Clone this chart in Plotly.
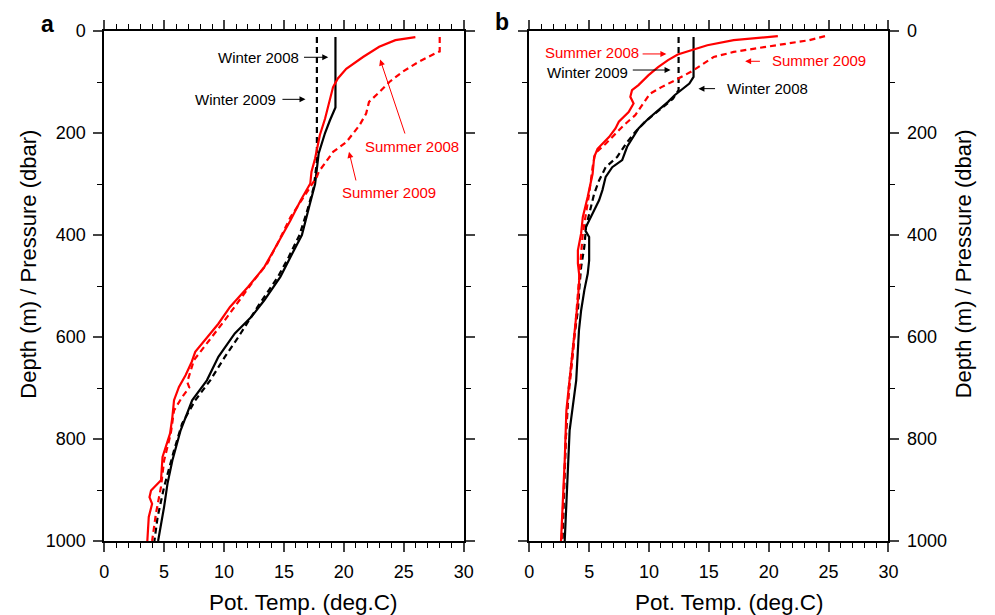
import plotly.graph_objects as go

# ---------------- Panel a data (pressure dbar, temperature deg C) ----------------
w08a_p = [12, 150, 175, 200, 240, 300, 345, 400, 443, 482, 528, 561, 593, 639, 685, 724, 783, 842, 888, 933, 1000]
w08a_t = [19.3, 19.3, 18.84, 18.43, 17.9, 17.6, 17.1, 16.5, 15.55, 14.7, 13.36, 12.27, 10.9, 9.53, 8.57, 7.34, 6.38, 5.69, 5.28, 5.0, 4.5]

w09a_p = [12, 255, 305, 344, 400, 443, 482, 541, 600, 639, 685, 724, 770, 822, 894, 953, 1000]
w09a_t = [17.75, 17.75, 17.5, 17.05, 16.3, 15.4, 14.5, 12.8, 11.2, 10.07, 8.85, 7.6, 6.5, 5.83, 5.0, 4.46, 4.19]

s08a_p = [12, 18, 31, 51, 74, 93, 110, 133, 172, 204, 250, 276, 299, 332, 371, 417, 463, 502, 541, 574,
          613, 629, 649, 675, 698, 724, 757, 789, 835, 881, 901, 914, 927, 953, 1000]
s08a_t = [25.97, 24.3, 22.95, 21.6, 20.2, 19.5, 19.1, 18.84, 18.43, 18.0, 17.6, 17.3, 17.2, 16.4, 15.55, 14.46, 13.36, 12.0, 10.5, 9.53,
          8.16, 7.6, 7.3, 6.79, 6.24, 5.83, 5.69, 5.5, 4.87, 4.74, 3.91, 3.78, 4.0, 3.72, 3.6]

s09a_p = [12, 40, 44, 61, 80, 100, 120, 139, 162, 185, 218, 237, 257, 276, 286, 325, 365, 417, 456, 489, 528, 567,
          645, 688, 699, 718, 744, 789, 842, 894, 946, 1000]
s09a_t = [28.0, 28.0, 27.6, 26.2, 24.9, 23.8, 22.95, 22.1, 21.86, 21.3, 20.2, 19.1, 18.5, 17.9, 17.75, 16.65, 15.55, 14.46, 13.6, 12.5, 11.3, 10.07,
          7.5, 6.93, 7.1, 6.5, 5.83, 5.56, 5.0, 4.74, 4.32, 4.0]

# ---------------- Panel b data ----------------
w08b_p = [12, 90, 103, 116, 126, 139, 155, 172, 191, 208, 227, 253, 267, 286, 312, 332, 358, 384, 392, 404, 450, 476,
          508, 548, 587, 685, 783, 848, 914, 1000]
w08b_t = [13.72, 13.72, 13.37, 12.69, 12.14, 11.59, 10.76, 9.94, 9.12, 8.7, 8.17, 7.76, 6.93, 6.38, 6.11, 5.83, 5.29, 4.74, 4.7, 5.0, 5.0, 4.88,
          4.6, 4.33, 4.15, 3.92, 3.37, 3.24, 3.1, 2.96]

w09b_p = [12, 116, 133, 162, 178, 198, 218, 247, 267, 293, 319, 345, 384, 423, 463, 502, 548, 600, 700, 800, 900, 1000]
w09b_t = [12.47, 12.47, 12.0, 10.5, 9.67, 8.85, 8.17, 7.34, 6.38, 5.83, 5.42, 5.15, 4.74, 4.6, 4.33, 4.19, 4.06, 3.75, 3.3, 3.05, 2.9, 2.78]

s08b_p = [10, 18, 28, 38, 46, 57, 71, 87, 106, 116, 129, 142, 159, 178, 191, 208, 231, 247, 280, 325, 338, 365,
          397, 430, 456, 482, 528, 626, 744, 842, 1000]
s08b_t = [20.76, 17.07, 14.87, 13.5, 12.4, 11.59, 10.76, 9.94, 9.12, 8.58, 8.44, 8.71, 8.3, 7.48, 7.2, 6.66, 5.7, 5.42, 5.29, 4.88, 4.74, 4.47,
          4.33, 4.06, 4.06, 4.19, 4.06, 3.65, 3.1, 2.96, 2.65]

s09b_p = [10, 18, 31, 41, 51, 67, 80, 97, 110, 123, 146, 165, 185, 205, 221, 240, 267, 319, 358, 397, 437, 476,
          528, 626, 744, 842, 1000]
s09b_t = [24.7, 23.37, 19.8, 17.07, 15.4, 14.33, 13.5, 12.14, 11.04, 10.08, 9.4, 8.85, 7.89, 7.07, 6.38, 5.5, 5.29, 5.0, 4.74, 4.47, 4.33, 4.2,
          4.06, 3.68, 3.15, 2.98, 2.7]

x_ticks = [0, 5, 10, 15, 20, 25, 30]
y_ticks = [0, 200, 400, 600, 800, 1000]
x_title = "Pot. Temp. (deg.C)"
y_title = "Depth (m) / Pressure (dbar)"

RED = "#ff0000"
BLACK = "#000000"
FONT = "Liberation Sans, Arial, Helvetica, sans-serif"
DASH = "6px,4px"

fig = go.Figure()

def add(t, p, color, dash, xa, ya):
    fig.add_trace(go.Scatter(x=t, y=p, mode="lines", xaxis=xa, yaxis=ya,
                             line=dict(color=color, width=2.2, dash=dash),
                             showlegend=False, hoverinfo="skip"))

add(w09a_t, w09a_p, BLACK, DASH, "x", "y")
add(w08a_t, w08a_p, BLACK, "solid", "x", "y")
add(s09a_t, s09a_p, RED, DASH, "x", "y")
add(s08a_t, s08a_p, RED, "solid", "x", "y")

add(w09b_t, w09b_p, BLACK, DASH, "x2", "y2")
add(w08b_t, w08b_p, BLACK, "solid", "x2", "y2")
add(s09b_t, s09b_p, RED, DASH, "x2", "y2")
add(s08b_t, s08b_p, RED, "solid", "x2", "y2")

xcommon = dict(range=[0, 30], tickvals=x_ticks, ticks="outside", ticklen=9, tickwidth=1.5,
               showline=True, linecolor="black", linewidth=1.8, mirror="ticks",
               showgrid=False, zeroline=False, ticklabelstandoff=4,
               tickfont=dict(family=FONT, size=18, color="black"),
               minor=dict(dtick=1, ticks="outside", ticklen=5, tickwidth=1.2, tickcolor="black", showgrid=False))
ycommon = dict(range=[1000, 0], tickvals=y_ticks, ticks="outside", ticklen=9, tickwidth=1.5,
               showline=True, linecolor="black", linewidth=1.8, mirror="ticks",
               showgrid=False, zeroline=False, ticklabelstandoff=4,
               tickfont=dict(family=FONT, size=18, color="black"),
               minor=dict(dtick=100, ticks="outside", ticklen=5, tickwidth=1.2, tickcolor="black", showgrid=False))

fig.update_layout(
    width=995, height=615,
    margin=dict(l=0, r=0, t=31, b=74),
    paper_bgcolor="white", plot_bgcolor="white",
    font=dict(family=FONT, color="black"),
    xaxis=dict(domain=[100.7 / 995, 465.7 / 995], anchor="y", **xcommon),
    yaxis=dict(domain=[0, 1], anchor="x", side="left", **ycommon),
    xaxis2=dict(domain=[532.3 / 995, 897 / 995], anchor="y2", **xcommon),
    yaxis2=dict(domain=[0, 1], anchor="x2", side="right", **ycommon),
)

annots = []

def label(text, x, y, xref, yref, color, xanchor="center", size=15):
    annots.append(dict(text=text, x=x, y=y, xref=xref, yref=yref, showarrow=False,
                       xanchor=xanchor, yanchor="middle",
                       font=dict(family=FONT, size=size, color=color)))

def arrow(x, y, ax, ay, xref, yref, color):
    annots.append(dict(text="", x=x, y=y, ax=ax, ay=ay, xref=xref, yref=yref,
                       axref=xref, ayref=yref, showarrow=True, arrowhead=2,
                       arrowsize=1.2, arrowwidth=1, arrowcolor=color, standoff=0, startstandoff=0))

# Panel a labels
label("Winter 2008", 16.4, 51.5, "x", "y", BLACK, "right")
arrow(18.7, 51.5, 16.55, 51.5, "x", "y", BLACK)
label("Winter 2009", 14.5, 134, "x", "y", BLACK, "right")
arrow(16.8, 134, 14.75, 134, "x", "y", BLACK)
label("Summer 2008", 25.66, 226, "x", "y", RED, "center")
arrow(23.03, 56, 25.14, 204, "x", "y", RED)
label("Summer 2009", 23.75, 316, "x", "y", RED, "center")
arrow(20.43, 237, 21.04, 296, "x", "y", RED)

# Panel b labels
label("Summer 2008", 9.32, 43, "x2", "y2", RED, "right")
arrow(11.45, 45, 9.34, 45, "x2", "y2", RED)
label("Winter 2009", 8.44, 80.4, "x2", "y2", BLACK, "right")
arrow(11.8, 76.5, 8.52, 76.5, "x2", "y2", BLACK)
label("Summer 2009", 20.13, 58.8, "x2", "y2", RED, "left")
arrow(18.03, 59.4, 19.39, 59.4, "x2", "y2", RED)
label("Winter 2008", 16.33, 111.8, "x2", "y2", BLACK, "left")
arrow(14.13, 113, 15.64, 113, "x2", "y2", BLACK)

# Axis titles (paper coords: plot area spans y pixels 31..541)
def py(pix):
    return (541 - pix) / 510.0

def px(pix):
    return pix / 995.0

annots.append(dict(text=y_title, x=px(23), y=py(264), xref="paper", yref="paper", showarrow=False,
                   textangle=-90, xanchor="center", yanchor="middle",
                   font=dict(family=FONT, size=22, color="black")))
annots.append(dict(text=y_title, x=px(973), y=py(264), xref="paper", yref="paper", showarrow=False,
                   textangle=-90, xanchor="center", yanchor="middle",
                   font=dict(family=FONT, size=22, color="black")))
annots.append(dict(text=x_title, x=px(303), y=py(602), xref="paper", yref="paper", showarrow=False,
                   xanchor="center", yanchor="middle", font=dict(family=FONT, size=22.5, color="black")))
annots.append(dict(text=x_title, x=px(735), y=py(602), xref="paper", yref="paper", showarrow=False,
                   xanchor="center", yanchor="middle", font=dict(family=FONT, size=22.5, color="black")))
# panel letters
annots.append(dict(text="<b>a</b>", x=px(43), y=py(24), xref="paper", yref="paper", showarrow=False,
                   xanchor="center", yanchor="middle", font=dict(family=FONT, size=23, color="black")))
annots.append(dict(text="<b>b</b>", x=px(505), y=py(22), xref="paper", yref="paper", showarrow=False,
                   xanchor="center", yanchor="middle", font=dict(family=FONT, size=23, color="black")))

fig.update_layout(annotations=annots)
fig.write_html("out.html", config={"displayModeBar": False},
               post_script="document.body.style.margin='0';document.body.style.padding='0';"
                           "document.body.style.overflow='hidden';"
                           "document.documentElement.style.overflow='hidden';")
